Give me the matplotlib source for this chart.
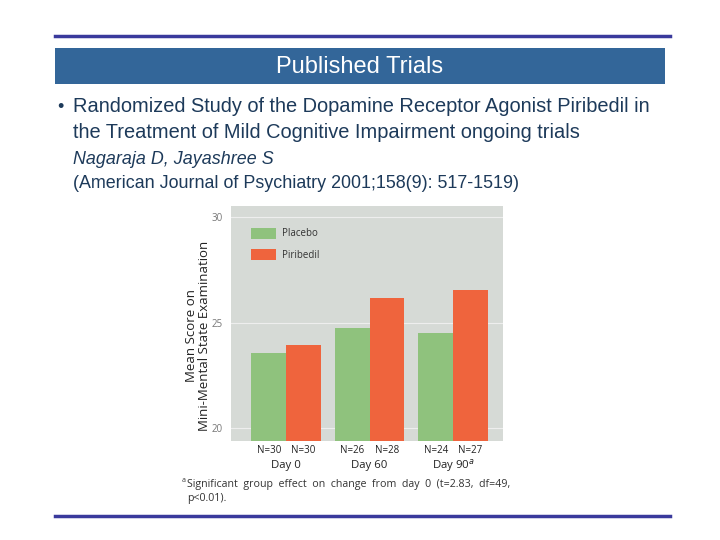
import matplotlib
matplotlib.use("Agg")
import matplotlib.pyplot as plt
from matplotlib.patches import Rectangle
from matplotlib.lines import Line2D
import numpy as np

# data
days = ["Day 0", "Day 60", "Day 90"]
placebo = [23.55, 24.75, 24.5]
piribedil = [23.93, 26.15, 26.56]
n_placebo = [30, 26, 24]
n_piribedil = [30, 28, 27]
yticks = [20, 25, 30]

SLIDE_FONT = ["Liberation Sans", "DejaVu Sans"]
CHART_FONT = ["Open Sans", "DejaVu Sans"]
TEXT_COLOR = "#1d3a5a"
GREEN = "#8fc27d"
ORANGE = "#ef643d"
PLOT_BG = "#d6dad6"

W, H = 720, 540
fig = plt.figure(figsize=(7.2, 5.4), dpi=100)


def fx(px):
    return px / W


def fy(py):
    return 1 - py / H


# slide decoration
fig.add_artist(Line2D([fx(55), fx(670)], [fy(36), fy(36)], color="#3a3a9c", lw=2.5))
fig.add_artist(Line2D([fx(55), fx(670)], [fy(516), fy(516)], color="#3a3a9c", lw=2.5))
fig.add_artist(Rectangle((fx(55), fy(84)), fx(610), 36 / H, color="#336699", lw=0))
fig.text(fx(360), fy(67), "Published Trials", color="white", fontsize=17,
         family=SLIDE_FONT, ha="center", va="center")

fig.text(fx(57), fy(107), "\u2022", color=TEXT_COLOR, fontsize=13, family=SLIDE_FONT, va="center")
fig.text(fx(73), fy(107), "Randomized Study of the Dopamine Receptor Agonist Piribedil in",
         color=TEXT_COLOR, fontsize=14.4, family=SLIDE_FONT, va="center")
fig.text(fx(73), fy(133), "the Treatment of Mild Cognitive Impairment ongoing trials",
         color=TEXT_COLOR, fontsize=14.4, family=SLIDE_FONT, va="center")
fig.text(fx(73), fy(159), "Nagaraja D, Jayashree S", color=TEXT_COLOR, fontsize=12.9,
         family=SLIDE_FONT, style="italic", va="center")
fig.text(fx(73), fy(184), "(American Journal of Psychiatry 2001;158(9): 517-1519)",
         color=TEXT_COLOR, fontsize=12.9, family=SLIDE_FONT, va="center")

# chart
ax = fig.add_axes([fx(231), fy(441), fx(272), 235 / H])
ax.set_facecolor(PLOT_BG)
x = np.arange(len(days))
bw = 0.415
ax.bar(x - bw / 2, placebo, width=bw, color=GREEN, label="Placebo", zorder=2)
ax.bar(x + bw / 2, piribedil, width=bw, color=ORANGE, label="Piribedil", zorder=2)
ax.set_xlim(-0.66, 2.6)
ax.set_ylim(19.39, 30.52)
ax.set_yticks(yticks)
ax.set_yticklabels([str(t) for t in yticks], fontsize=7, color="#777777", family=CHART_FONT)
for t in yticks:
    ax.axhline(t, color="#eeeeee", lw=0.8, zorder=1)
ax.tick_params(axis="y", length=0, pad=6)
ax.set_xticks([])
for s in ax.spines.values():
    s.set_visible(False)

leg = ax.legend(loc="upper left", bbox_to_anchor=(0.06, 0.925), frameon=False,
                prop={"family": CHART_FONT, "size": 7}, handlelength=2.6, handleheight=1.4,
                labelspacing=1.0, handletextpad=0.6, borderaxespad=0)
for txt in leg.get_texts():
    txt.set_color("#333333")

ax.set_ylabel("Mean Score on\nMini-Mental State Examination", fontsize=9.5,
              family=CHART_FONT, color="#222222", linespacing=1.0)
ax.yaxis.set_label_coords(-0.074, 0.447)

for i, d in enumerate(days):
    ax.annotate(f"N={n_placebo[i]}", (x[i] - bw / 2, 19.39), xytext=(0, -7),
                textcoords="offset points", ha="center", va="center", fontsize=7,
                family=CHART_FONT, color="#222222", annotation_clip=False)
    ax.annotate(f"N={n_piribedil[i]}", (x[i] + bw / 2, 19.39), xytext=(0, -7),
                textcoords="offset points", ha="center", va="center", fontsize=7,
                family=CHART_FONT, color="#222222", annotation_clip=False)
    label = d + ("$^{a}$" if i == len(days) - 1 else "")
    ax.annotate(label, (x[i], 19.39), xytext=(0, -17.5), textcoords="offset points",
                ha="center", va="center", fontsize=8.2, family=CHART_FONT,
                color="#222222", annotation_clip=False)

fig.text(fx(182), fy(481), "a", fontsize=5, family=CHART_FONT, color="#333333", va="center")
fig.text(fx(187), fy(485), "Significant  group  effect  on  change  from  day  0  (t=2.83,  df=49,",
         fontsize=7.7, family=CHART_FONT, color="#333333", va="center")
fig.text(fx(187), fy(498), "p<0.01).", fontsize=7.7, family=CHART_FONT, color="#333333", va="center")

fig.savefig("out.png", dpi=100)
